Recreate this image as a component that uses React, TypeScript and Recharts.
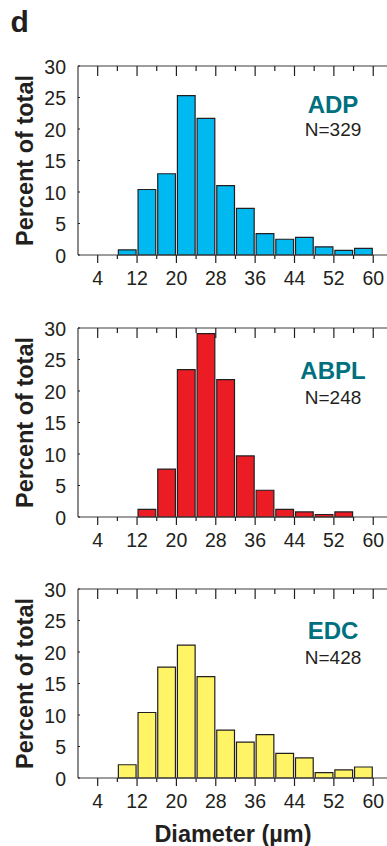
import React from "react";
import { Bar, BarChart, Customized, XAxis, YAxis } from "recharts";

// histogram bins are 4 µm wide, value = percent of cells in bin
const binStarts = [8, 12, 16, 20, 24, 28, 32, 36, 40, 44, 48, 52, 56];
const adpPercent = [0.8, 10.4, 12.9, 25.3, 21.7, 11.0, 7.4, 3.4, 2.5, 2.8, 1.3, 0.75, 1.05];
const abplPercent = [0, 1.2, 7.6, 23.4, 29.1, 21.8, 9.7, 4.25, 1.2, 0.8, 0.4, 0.8, 0];
const edcPercent = [2.1, 10.4, 17.6, 21.1, 16.1, 7.6, 5.7, 6.9, 3.9, 3.2, 0.85, 1.3, 1.75];

const xTicks = [4, 8, 12, 16, 20, 24, 28, 32, 36, 40, 44, 48, 52, 56, 60];
const xLabelTicks = [4, 12, 20, 28, 36, 44, 52, 60];
const yTicks = [0, 5, 10, 15, 20, 25, 30];
const binWidth = 4;
const xDomain: [number, number] = [0, 63];

const FONT = '"Liberation Sans", Arial, Helvetica, sans-serif';
const INK = "#231f20";
const AXIS = "#3c3c3c";
const TEAL = "#00707f";

const CHART_W = 398;
const Y_AXIS_W = 78;
const RIGHT_W = 10;
const PLOT_W = CHART_W - Y_AXIS_W - RIGHT_W;
const PLOT_H = 189;
const TOP_PAD = 21;

const panels = [
  { name: "ADP", n: 329, values: adpPercent, fill: "#00b9f0", top: 45, nameDy: 47, nDy: 70, last: false },
  { name: "ABPL", n: 248, values: abplPercent, fill: "#ec1c24", top: 306.5, nameDy: 50.5, nDy: 75.5, last: false },
  { name: "EDC", n: 428, values: edcPercent, fill: "#fff466", top: 568, nameDy: 50, nDy: 75, last: true },
];

function BottomTick(props: any) {
  const { x, y, payload } = props;
  const major = xLabelTicks.includes(payload.value);
  return (
    <g>
      <line x1={x} x2={x} y1={y} y2={y + (major ? 8 : 4)} stroke={INK} strokeWidth={1.2} />
      {major && (
        <text x={x} y={y + 30} textAnchor="middle" fontSize={19.5} fill={INK} fontFamily={FONT}>
          {payload.value}
        </text>
      )}
    </g>
  );
}

function TopTick(props: any) {
  const { x, y, payload } = props;
  const major = xLabelTicks.includes(payload.value);
  return <line x1={x} x2={x} y1={y} y2={y + (major ? 10 : 5)} stroke={INK} strokeWidth={1.2} />;
}

function LeftTick(props: any) {
  const { x, y, payload } = props;
  return (
    <g>
      <line x1={x} x2={x + 2} y1={y} y2={y} stroke={INK} strokeWidth={1.2} />
      <text x={x - 12} y={y + 7.5} textAnchor="end" fontSize={19.5} fill={INK} fontFamily={FONT}>
        {payload.value}
      </text>
    </g>
  );
}

function RightTick(props: any) {
  const { x, y } = props;
  return <line x1={x - 8} x2={x} y1={y} y2={y} stroke={INK} strokeWidth={1.2} />;
}

function Panel({ p }: { p: (typeof panels)[number] }) {
  const data = binStarts.map((s, i) => ({ center: s + binWidth / 2, percent: p.values[i] }));
  const bottomH = p.last ? 70 : 40;
  const height = TOP_PAD + PLOT_H + bottomH;
  const labelX = 333;

  return (
    <div style={{ position: "absolute", left: 0, top: p.top }}>
      <BarChart
        width={CHART_W}
        height={height}
        data={data}
        margin={{ top: TOP_PAD - 1, right: 0, bottom: 0, left: 0 }}
        barCategoryGap={0}
        barGap={0}
      >
        <XAxis
          xAxisId="bottom"
          type="number"
          dataKey="center"
          domain={xDomain}
          ticks={xTicks}
          interval={0}
          height={bottomH}
          tickSize={0}
          tickMargin={0}
          tickLine={false}
          axisLine={{ stroke: AXIS, strokeWidth: 1.2 }}
          tick={BottomTick}
        />
        <XAxis
          xAxisId="top"
          orientation="top"
          type="number"
          dataKey="center"
          domain={xDomain}
          ticks={xTicks}
          interval={0}
          height={1}
          tickSize={0}
          tickMargin={0}
          tickLine={false}
          axisLine={{ stroke: AXIS, strokeWidth: 1.2 }}
          tick={TopTick}
        />
        <YAxis
          yAxisId="left"
          domain={[0, 30]}
          ticks={yTicks}
          interval={0}
          width={Y_AXIS_W}
          tickSize={0}
          tickMargin={0}
          tickLine={false}
          axisLine={{ stroke: AXIS, strokeWidth: 1.2 }}
          tick={LeftTick}
        />
        <YAxis
          yAxisId="right"
          orientation="right"
          domain={[0, 30]}
          ticks={yTicks}
          interval={0}
          width={RIGHT_W}
          tickSize={0}
          tickMargin={0}
          tickLine={false}
          axisLine={{ stroke: AXIS, strokeWidth: 1.2 }}
          tick={RightTick}
        />
        <Bar
          xAxisId="bottom"
          yAxisId="left"
          dataKey="percent"
          fill={p.fill}
          stroke={INK}
          strokeWidth={1.2}
          barSize={(binWidth * PLOT_W) / (xDomain[1] - xDomain[0])}
          isAnimationActive={false}
        />
        <Customized
          component={() => (
            <g fontFamily={FONT}>
              <text
                x={33}
                y={TOP_PAD + PLOT_H / 2}
                transform={`rotate(-90, 33, ${TOP_PAD + PLOT_H / 2})`}
                textAnchor="middle"
                fontSize={23.5}
                fontWeight="bold"
                fill={INK}
              >
                Percent of total
              </text>
              <text x={labelX} y={TOP_PAD + p.nameDy} textAnchor="middle" fontSize={24} fontWeight="bold" fill={TEAL}>
                {p.name}
              </text>
              <text x={labelX} y={TOP_PAD + p.nDy} textAnchor="middle" fontSize={19} fill={INK}>
                N={p.n}
              </text>
              {p.last && (
                <text
                  x={Y_AXIS_W + PLOT_W / 2}
                  y={TOP_PAD + PLOT_H + 63.5}
                  textAnchor="middle"
                  fontSize={23.5}
                  fontWeight="bold"
                  fill={INK}
                >
                  Diameter (µm)
                </text>
              )}
            </g>
          )}
        />
      </BarChart>
    </div>
  );
}

export default function App() {
  return (
    <div
      style={{
        position: "absolute",
        left: 0,
        top: 0,
        width: 387,
        height: 846,
        overflow: "hidden",
        background: "#fff",
      }}
    >
      <svg width={60} height={45} style={{ position: "absolute", left: 0, top: 0 }}>
        <text x={10.5} y={32.3} fontSize={30} fontWeight="bold" fill={INK} fontFamily={FONT}>
          d
        </text>
      </svg>
      {panels.map((p) => (
        <Panel key={p.name} p={p} />
      ))}
    </div>
  );
}
